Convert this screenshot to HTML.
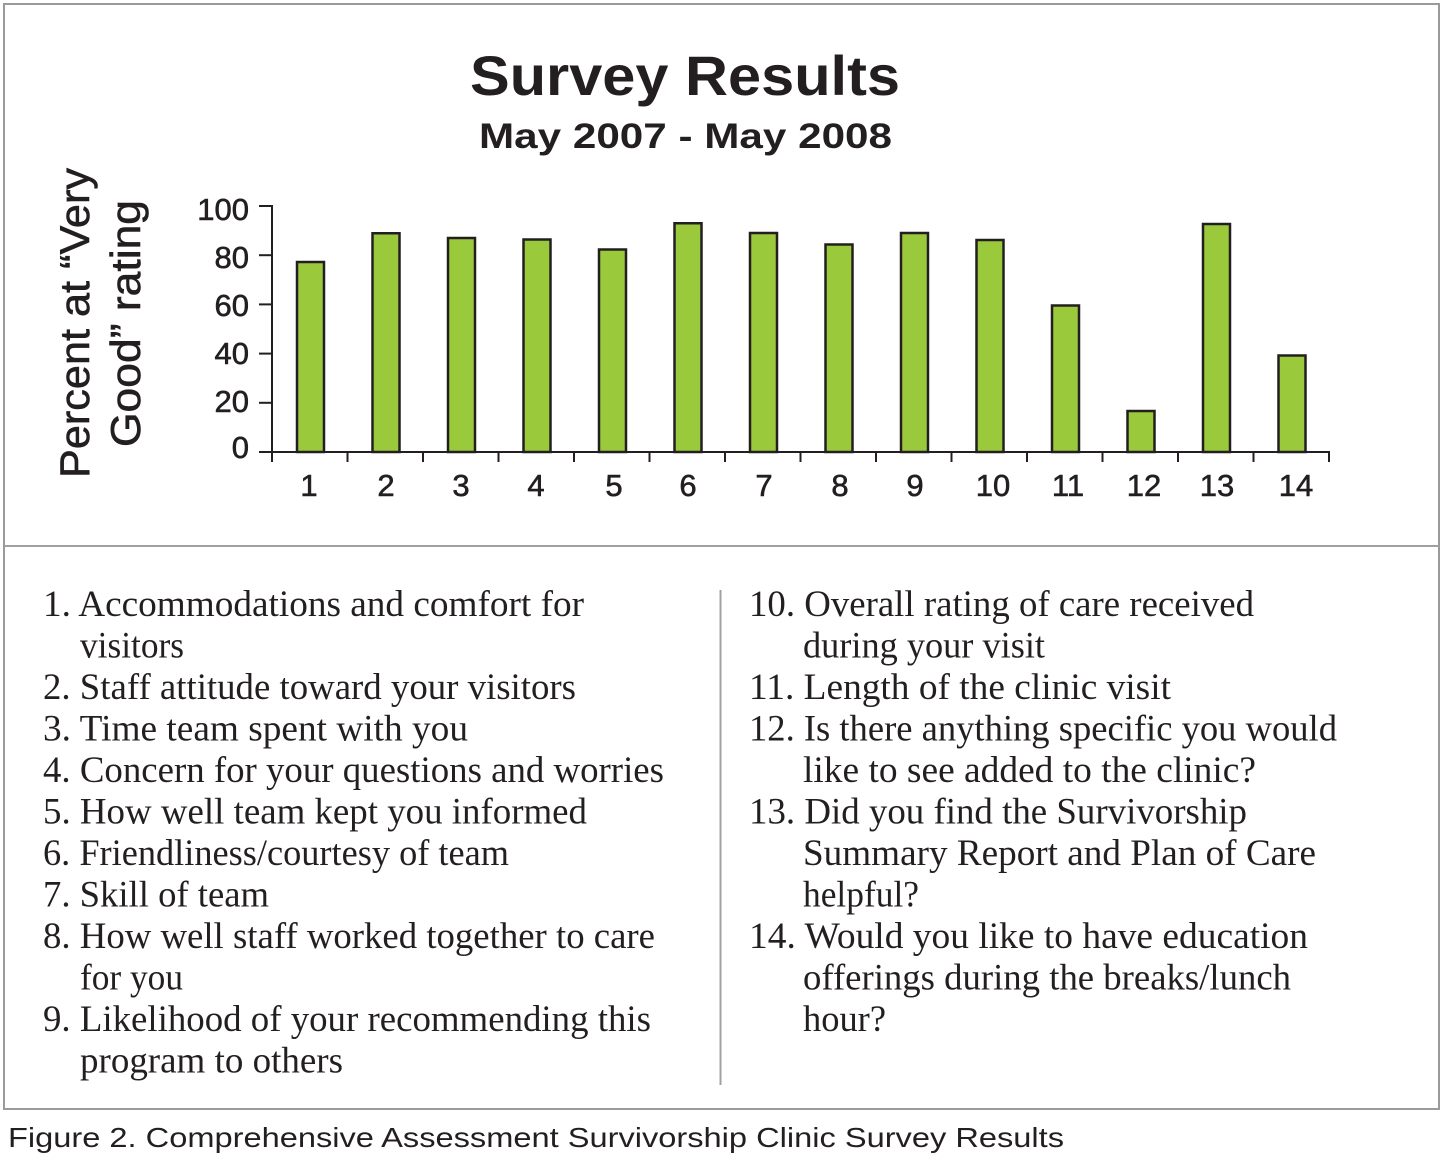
<!DOCTYPE html>
<html>
<head>
<meta charset="utf-8">
<style>
html,body{margin:0;padding:0;background:#fff;}
svg{display:block;}
.sans{font-family:"Liberation Sans",Arial,sans-serif;fill:#231f20;}
.serif{font-family:"Liberation Serif","Times New Roman",serif;fill:#231f20;font-size:37px;}
</style>
</head>
<body>
<svg width="1444" height="1163" viewBox="0 0 1444 1163" xmlns="http://www.w3.org/2000/svg">
<rect x="0" y="0" width="1444" height="1163" fill="#fff"/>
<!-- frame -->
<rect x="4" y="4" width="1435" height="1105" fill="none" stroke="#9a9a9a" stroke-width="2"/>
<line x1="4" y1="546" x2="1439" y2="546" stroke="#a0a0a0" stroke-width="2"/>
<line x1="720.5" y1="590" x2="720.5" y2="1085" stroke="#a0a0a0" stroke-width="2"/>

<!-- titles -->
<text class="sans" x="685" y="95" text-anchor="middle" font-size="56" font-weight="bold" textLength="430" lengthAdjust="spacingAndGlyphs">Survey Results</text>
<text class="sans" x="685.5" y="148" text-anchor="middle" font-size="35" font-weight="bold" textLength="413" lengthAdjust="spacingAndGlyphs">May 2007 - May 2008</text>

<!-- y axis title -->
<text class="sans" transform="translate(89,323) rotate(-90)" text-anchor="middle" font-size="42" stroke="#231f20" stroke-width="0.6" textLength="310" lengthAdjust="spacingAndGlyphs">Percent at “Very</text>
<text class="sans" transform="translate(140,323.5) rotate(-90)" text-anchor="middle" font-size="42" stroke="#231f20" stroke-width="0.6" textLength="247" lengthAdjust="spacingAndGlyphs">Good” rating</text>

<!-- y tick labels -->
<g class="sans" font-size="31" text-anchor="end" stroke="#231f20" stroke-width="0.6">
<text x="249" y="220">100</text>
<text x="249" y="268">80</text>
<text x="249" y="316">60</text>
<text x="249" y="364">40</text>
<text x="249" y="412">20</text>
<text x="249" y="458">0</text>
</g>

<!-- bars -->
<g fill="#9aca3c" stroke="#231f20" stroke-width="2.5">
<rect x="297" y="262" width="27" height="190"/>
<rect x="372.5" y="233.25" width="27" height="218.75"/>
<rect x="448" y="238" width="27" height="214"/>
<rect x="523.5" y="239.5" width="27" height="212.5"/>
<rect x="599" y="249.5" width="27" height="202.5"/>
<rect x="674.5" y="223.25" width="27" height="228.75"/>
<rect x="750" y="233" width="27" height="219"/>
<rect x="825.5" y="244.5" width="27" height="207.5"/>
<rect x="901" y="233" width="27" height="219"/>
<rect x="976.5" y="240" width="27" height="212"/>
<rect x="1052" y="305.5" width="27" height="146.5"/>
<rect x="1127.5" y="411" width="27" height="41"/>
<rect x="1203" y="224" width="27" height="228"/>
<rect x="1278.5" y="355.5" width="27" height="96.5"/>
</g>

<!-- axes -->
<g stroke="#231f20" stroke-width="2" fill="none">
<line x1="272" y1="205" x2="272" y2="452"/>
<line x1="259" y1="452" x2="1330" y2="452"/>
<line x1="259" y1="206" x2="272" y2="206"/>
<line x1="259" y1="255.2" x2="272" y2="255.2"/>
<line x1="259" y1="304.4" x2="272" y2="304.4"/>
<line x1="259" y1="353.6" x2="272" y2="353.6"/>
<line x1="259" y1="402.8" x2="272" y2="402.8"/>
<line x1="272" y1="452" x2="272" y2="462"/>
<line x1="347.5" y1="452" x2="347.5" y2="462"/>
<line x1="423" y1="452" x2="423" y2="462"/>
<line x1="498.5" y1="452" x2="498.5" y2="462"/>
<line x1="574" y1="452" x2="574" y2="462"/>
<line x1="649.5" y1="452" x2="649.5" y2="462"/>
<line x1="725" y1="452" x2="725" y2="462"/>
<line x1="800.5" y1="452" x2="800.5" y2="462"/>
<line x1="876" y1="452" x2="876" y2="462"/>
<line x1="951.5" y1="452" x2="951.5" y2="462"/>
<line x1="1027" y1="452" x2="1027" y2="462"/>
<line x1="1102.5" y1="452" x2="1102.5" y2="462"/>
<line x1="1178" y1="452" x2="1178" y2="462"/>
<line x1="1253.5" y1="452" x2="1253.5" y2="462"/>
<line x1="1329" y1="452" x2="1329" y2="462"/>
</g>

<!-- x labels -->
<g class="sans" font-size="31" text-anchor="middle" stroke="#231f20" stroke-width="0.6">
<text x="309" y="496">1</text>
<text x="386" y="496">2</text>
<text x="461" y="496">3</text>
<text x="536" y="496">4</text>
<text x="614" y="496">5</text>
<text x="688" y="496">6</text>
<text x="764" y="496">7</text>
<text x="840" y="496">8</text>
<text x="915" y="496">9</text>
<text x="993" y="496">10</text>
<text x="1068" y="496">11</text>
<text x="1144" y="496">12</text>
<text x="1217" y="496">13</text>
<text x="1296" y="496">14</text>
</g>

<!-- legend left -->
<g class="serif">
<text x="43" y="616" textLength="541" lengthAdjust="spacingAndGlyphs">1. Accommodations and comfort for</text>
<text x="80" y="657.5" textLength="104" lengthAdjust="spacingAndGlyphs">visitors</text>
<text x="43" y="699" textLength="533" lengthAdjust="spacingAndGlyphs">2. Staff attitude toward your visitors</text>
<text x="43" y="740.5" textLength="425" lengthAdjust="spacingAndGlyphs">3. Time team spent with you</text>
<text x="43" y="782" textLength="621" lengthAdjust="spacingAndGlyphs">4. Concern for your questions and worries</text>
<text x="43" y="823.5" textLength="544" lengthAdjust="spacingAndGlyphs">5. How well team kept you informed</text>
<text x="43" y="865" textLength="466" lengthAdjust="spacingAndGlyphs">6. Friendliness/courtesy of team</text>
<text x="43" y="906.5" textLength="226" lengthAdjust="spacingAndGlyphs">7. Skill of team</text>
<text x="43" y="948" textLength="612" lengthAdjust="spacingAndGlyphs">8. How well staff worked together to care</text>
<text x="80" y="989.5" textLength="103" lengthAdjust="spacingAndGlyphs">for you</text>
<text x="43" y="1031" textLength="608" lengthAdjust="spacingAndGlyphs">9. Likelihood of your recommending this</text>
<text x="80" y="1072.5" textLength="263" lengthAdjust="spacingAndGlyphs">program to others</text>
</g>

<!-- legend right -->
<g class="serif">
<text x="749" y="616" textLength="505" lengthAdjust="spacingAndGlyphs">10. Overall rating of care received</text>
<text x="803" y="657.5" textLength="242" lengthAdjust="spacingAndGlyphs">during your visit</text>
<text x="749" y="699" textLength="422" lengthAdjust="spacingAndGlyphs">11. Length of the clinic visit</text>
<text x="749" y="740.5" textLength="588" lengthAdjust="spacingAndGlyphs">12. Is there anything specific you would</text>
<text x="803" y="782" textLength="453" lengthAdjust="spacingAndGlyphs">like to see added to the clinic?</text>
<text x="749" y="823.5" textLength="498" lengthAdjust="spacingAndGlyphs">13. Did you find the Survivorship</text>
<text x="803" y="865" textLength="513" lengthAdjust="spacingAndGlyphs">Summary Report and Plan of Care</text>
<text x="803" y="906.5" textLength="116" lengthAdjust="spacingAndGlyphs">helpful?</text>
<text x="749" y="948" textLength="559" lengthAdjust="spacingAndGlyphs">14. Would you like to have education</text>
<text x="803" y="989.5" textLength="488" lengthAdjust="spacingAndGlyphs">offerings during the breaks/lunch</text>
<text x="803" y="1031" textLength="83" lengthAdjust="spacingAndGlyphs">hour?</text>
</g>

<!-- caption -->
<text class="sans" x="8" y="1147" font-size="28" textLength="1056" lengthAdjust="spacingAndGlyphs">Figure 2. Comprehensive Assessment Survivorship Clinic Survey Results</text>
</svg>
</body>
</html>
